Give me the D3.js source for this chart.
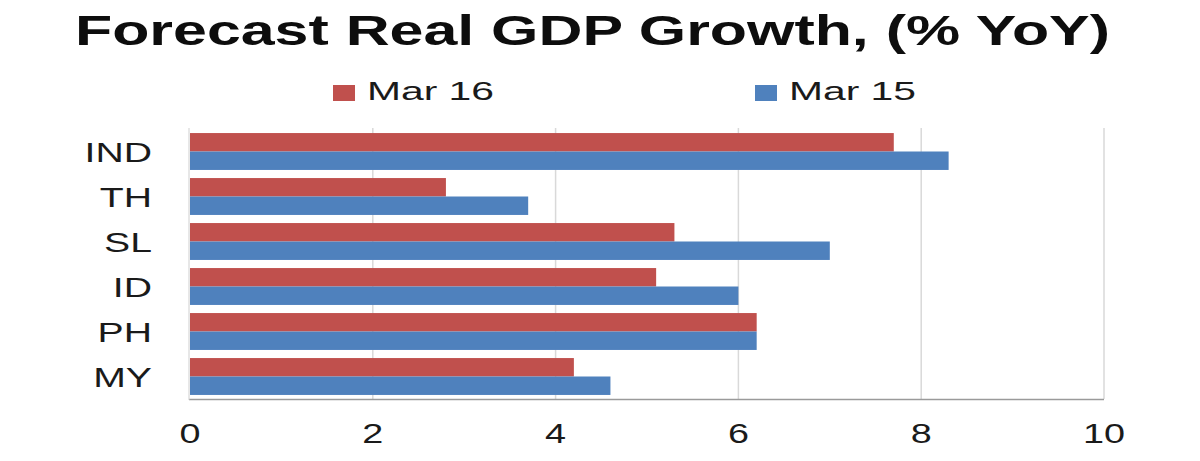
<!DOCTYPE html>
<html><head><meta charset="utf-8">
<script src="https://cdn.jsdelivr.net/npm/d3@7"></script>
<style>body{margin:0;background:#fff}svg{display:block}text{font-family:"Liberation Sans",Arial,sans-serif}</style>
</head><body>
<svg id="c" width="1200" height="461"></svg>
<script>
const categories = ["IND","TH","SL","ID","PH","MY"];
const mar16 = [7.7, 2.8, 5.3, 5.1, 6.2, 4.2];
const mar15 = [8.3, 3.7, 7.0, 6.0, 6.2, 4.6];
const seriesNames = ["Mar 16","Mar 15"];
const seriesColors = ["#C0504D","#4F81BD"];
const xTicks = [0,2,4,6,8,10];

const svg = d3.select("#c");
const x = d3.scaleLinear().domain([0,10]).range([190,1104]);
const y = d3.scaleBand().domain(categories).range([129,399]).paddingInner(0.18).paddingOuter(0.09);
const sub = d3.scaleBand().domain(seriesNames).range([0, y.bandwidth()]);

// gridlines
svg.append("g").selectAll("line").data(xTicks.filter(d=>d>0)).join("line")
  .attr("x1",d=>x(d)).attr("x2",d=>x(d)).attr("y1",128).attr("y2",399)
  .attr("stroke","#d9d9d9").attr("stroke-width",1.5);

// bars
const data = categories.map((c,i)=>({c, vals:[mar16[i], mar15[i]]}));
const g = svg.append("g");
data.forEach(d=>{
  d.vals.forEach((v,j)=>{
    g.append("rect")
      .attr("x", x(0))
      .attr("y", y(d.c)+sub(seriesNames[j]))
      .attr("width", x(v)-x(0))
      .attr("height", sub.bandwidth())
      .attr("fill", seriesColors[j]);
  });
});

// axes lines
svg.append("line").attr("x1",x(0)-1).attr("x2",x(10)).attr("y1",399.5).attr("y2",399.5)
  .attr("stroke","#9a9a9a").attr("stroke-width",1.5);
svg.append("line").attr("x1",x(0)-1).attr("x2",x(0)-1).attr("y1",128).attr("y2",400)
  .attr("stroke","#cfcfcf").attr("stroke-width",1);

// x tick labels
const xAxis = d3.axisBottom(x).tickValues(xTicks).tickSize(0).tickFormat(d3.format("d"));
const ax = svg.append("g").attr("transform","translate(0,0)").call(xAxis);
ax.select(".domain").remove();
ax.selectAll(".tick text").remove();
ax.selectAll(".tick").each(function(d){
  d3.select(this).attr("transform",`translate(${x(d)},443)`)
    .append("g").attr("transform","scale(1.35,1)")
    .append("text").attr("text-anchor","middle").attr("font-size",28)
    .attr("fill","#1a1a1a").text(d);
});

// y labels
const yAxis = d3.axisLeft(y).tickSize(0);
const ay = svg.append("g").call(yAxis);
ay.select(".domain").remove();
ay.selectAll(".tick text").remove();
ay.selectAll(".tick").each(function(d){
  d3.select(this).attr("transform",`translate(152,${y(d)+y.bandwidth()/2+10})`)
    .append("g").attr("transform","scale(1.4,1)")
    .append("text").attr("text-anchor","end").attr("font-size",28)
    .attr("fill","#1a1a1a").text(d);
});

// title
svg.append("text").attr("x",75).attr("y",45).attr("font-size",42).attr("font-weight","bold")
  .attr("fill","#0d0d0d").attr("textLength",1035).attr("lengthAdjust","spacingAndGlyphs")
  .text("Forecast Real GDP Growth, (% YoY)");

// legend
const legX = [333, 755];
seriesNames.forEach((n,i)=>{
  svg.append("rect").attr("x",legX[i]).attr("y",85).attr("width",22).attr("height",16).attr("fill",seriesColors[i]);
  svg.append("text").attr("x",legX[i]+34).attr("y",100).attr("font-size",25).attr("fill","#1a1a1a")
    .attr("textLength",127).attr("lengthAdjust","spacingAndGlyphs").text(n);
});
</script>
</body></html>
